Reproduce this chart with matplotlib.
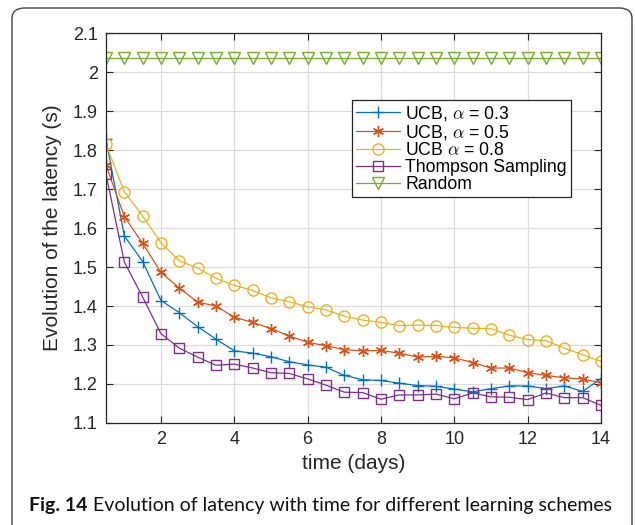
import matplotlib
matplotlib.use("Agg")
import matplotlib.pyplot as plt
from matplotlib.patches import FancyBboxPatch

plt.rcParams['font.family'] = ['Liberation Sans', 'DejaVu Sans']
plt.rcParams['mathtext.fontset'] = 'cm'

# Datos
days = [0.5, 1, 1.5, 2, 2.5, 3, 3.5, 4, 4.5, 5, 5.5, 6, 6.5, 7,
        7.5, 8, 8.5, 9, 9.5, 10, 10.5, 11, 11.5, 12, 12.5, 13, 13.5, 14]
ucb_03 = [1.827, 1.580, 1.514, 1.414, 1.383, 1.347, 1.315, 1.285, 1.279, 1.270,
          1.257, 1.249, 1.243, 1.222, 1.211, 1.209, 1.202, 1.196, 1.194, 1.187,
          1.180, 1.188, 1.195, 1.195, 1.188, 1.195, 1.181, 1.214]
ucb_05 = [1.761, 1.629, 1.561, 1.486, 1.446, 1.410, 1.400, 1.371, 1.358, 1.342,
          1.323, 1.307, 1.298, 1.288, 1.285, 1.286, 1.279, 1.269, 1.271, 1.267,
          1.255, 1.241, 1.241, 1.229, 1.222, 1.216, 1.213, 1.203]
ucb_08 = [1.815, 1.693, 1.631, 1.562, 1.516, 1.497, 1.471, 1.453, 1.440, 1.421,
          1.411, 1.398, 1.390, 1.374, 1.364, 1.358, 1.350, 1.351, 1.350, 1.345,
          1.343, 1.342, 1.325, 1.314, 1.311, 1.292, 1.275, 1.258]
thompson = [1.738, 1.513, 1.423, 1.329, 1.292, 1.269, 1.248, 1.251, 1.241, 1.229,
            1.227, 1.213, 1.197, 1.179, 1.178, 1.161, 1.172, 1.172, 1.174, 1.162,
            1.177, 1.167, 1.166, 1.160, 1.177, 1.165, 1.165, 1.145]
random_sel = [2.035, 2.035, 2.035, 2.035, 2.035, 2.035, 2.035, 2.035, 2.035, 2.035,
              2.035, 2.035, 2.035, 2.035, 2.035, 2.035, 2.035, 2.035, 2.035, 2.035,
              2.035, 2.035, 2.035, 2.035, 2.035, 2.035, 2.035, 2.035]
x_ticks = [2, 4, 6, 8, 10, 12, 14]
y_ticks = [1.1, 1.2, 1.3, 1.4, 1.5, 1.6, 1.7, 1.8, 1.9, 2, 2.1]
y_tick_labels = ['1.1', '1.2', '1.3', '1.4', '1.5', '1.6', '1.7', '1.8', '1.9', '2', '2.1']

fig = plt.figure(figsize=(6.35, 5.25), dpi=100)
ax = fig.add_axes([0.1669, 0.1943, 0.7796, 0.7428])

lw = 0.9
ax.plot(days, ucb_03, color='#0072BD', marker='+', ms=9, mew=1.0, lw=lw,
        label=r'UCB, $\alpha$ = 0.3')
ax.plot(days, ucb_05, color='#D95319', marker=(6, 2, 0), ms=8, mew=1.0, lw=lw,
        label=r'UCB, $\alpha$ = 0.5')
ax.plot(days, ucb_08, color='#EDB120', marker='o', ms=8, mfc='none', mew=1.0, lw=lw,
        label=r'UCB $\alpha$ = 0.8')
ax.plot(days, thompson, color='#7E2F8E', marker='s', ms=6.5, mfc='none', mew=1.0, lw=lw,
        label='Thompson Sampling')
ax.plot(days, random_sel, color='#77AC30', marker='v', ms=8, mfc='none', mew=1.0, lw=lw,
        label='Random')

ax.set_xlim(0.5, 14)
ax.set_ylim(1.1, 2.1)
ax.set_xticks(x_ticks)
ax.set_yticks(y_ticks)
ax.set_yticklabels(y_tick_labels)
ax.tick_params(direction='in', top=True, right=True, length=5, width=0.8,
               labelsize=13, colors='#262626', pad=6)
ax.grid(True, color='#dcdcdc', lw=0.9)
ax.set_axisbelow(True)
for s in ax.spines.values():
    s.set_color('#262626')
    s.set_linewidth(0.9)

ax.set_xlabel('time (days)', fontsize=15, color='#262626', labelpad=4)
ax.set_ylabel('Evolution of the latency (s)', fontsize=15, color='#262626', labelpad=8)

leg = ax.legend(loc='upper left', bbox_to_anchor=(0.497, 0.828), fontsize=12.7,
                frameon=True, fancybox=False, edgecolor='#262626', framealpha=1,
                handlelength=2.5, handletextpad=0.3, labelspacing=0.0,
                borderpad=0.22, borderaxespad=0)
leg.get_frame().set_linewidth(0.9)

# Marco del articulo y pie de figura
frame = FancyBboxPatch((12 / 635, -0.05), 620 / 635, 1.05 - 8 / 525,
                       boxstyle='round,pad=0,rounding_size=0.02',
                       transform=fig.transFigure, fill=False,
                       edgecolor='#444444', lw=1.0, clip_on=False)
fig.patches.append(frame)

cap_font = ['Lato', 'DejaVu Sans']
t1 = fig.text(29 / 635, 1 - 511 / 525, 'Fig. 14', fontsize=14.0, fontweight='bold',
              family=cap_font, color='#111111', va='baseline')
fig.canvas.draw()
bb = t1.get_window_extent()
fig.text(bb.x1 / 635 + 5 / 635, 1 - 511 / 525,
         'Evolution of latency with time for different learning schemes',
         fontsize=14.0, family=cap_font, color='#111111', va='baseline')

plt.savefig('out.png', dpi=100)
